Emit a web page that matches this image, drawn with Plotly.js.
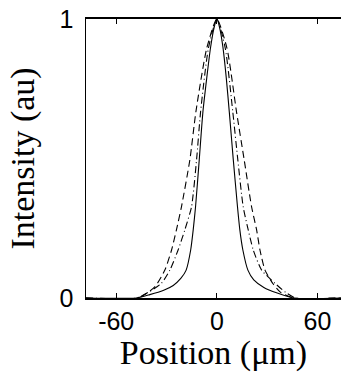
<!DOCTYPE html>
<html>
<head>
<meta charset="utf-8">
<script src="https://cdn.plot.ly/plotly-3.0.1.min.js"></script>
<style>html,body{margin:0;padding:0;background:#fff;overflow:hidden}#chart{width:341px;height:372px}</style>
</head>
<body>
<div id="chart"></div>
<script>
// Solid curve (narrowest)
const solidX = [-78, -48, -40, -32, -26, -21.5, -18.3, -15.6, -14.1, -12.7, -10.5, -8.3, -6, -3.8, -1.8, 0, 1.8, 3.6, 5.6, 7.4, 9.8, 12.3, 13.7, 15.5, 18.5, 22, 28, 36, 46, 74];
const solidY = [0, 0, 0.012, 0.027, 0.045, 0.07, 0.10, 0.172, 0.244, 0.327, 0.495, 0.668, 0.79, 0.896, 0.965, 1, 0.965, 0.9, 0.79, 0.668, 0.495, 0.327, 0.244, 0.172, 0.10, 0.065, 0.038, 0.018, 0, 0];
// Dash-dot curve (middle)
const dashDotX = [-78, -48, -41, -33, -28, -23.1, -19.1, -15.1, -12.1, -9.7, -5, 0, 5, 9.5, 12.5, 15.7, 18.7, 21.7, 26.7, 34.6, 41, 47, 74];
const dashDotY = [0, 0, 0.02, 0.053, 0.10, 0.172, 0.244, 0.327, 0.495, 0.667, 0.896, 1, 0.896, 0.667, 0.495, 0.327, 0.244, 0.172, 0.10, 0.053, 0.02, 0, 0];
// Dashed curve (widest)
const dashedX = [-78, -47, -37, -31, -27, -24.1, -21.1, -16.1, -12.5, -6, 0, 6, 11.7, 16.3, 20.7, 23.7, 25.7, 28.7, 33.6, 38, 46, 74];
const dashedY = [0, 0, 0.04, 0.10, 0.172, 0.244, 0.327, 0.495, 0.667, 0.896, 1, 0.896, 0.668, 0.495, 0.327, 0.244, 0.172, 0.10, 0.05, 0.02, 0, 0];
// Ticks
const xTickVals = [-60, 0, 60];
const xTickText = ['-60', '0', '60'];
const yTickVals = [0, 1];
const yTickText = ['0', '1'];

const line = (x, y, dash) => ({
  x: x, y: y, type: 'scatter', mode: 'lines',
  line: {color: '#000', width: 1.1, dash: dash, shape: 'spline', smoothing: 0.6},
  hoverinfo: 'skip', showlegend: false
});

const data = [
  line(dashedX, dashedY, '7px,4px'),
  line(dashDotX, dashDotY, '7px,3px,1px,3px'),
  line(solidX, solidY, 'solid')
];

const tickFont = {family: '"Liberation Sans", Arial, sans-serif', size: 25, color: '#000'};
const xTitleFont = {family: '"Liberation Serif", "Times New Roman", serif', size: 34, color: '#000'};
const yTitleFont = {family: '"Liberation Serif", "Times New Roman", serif', size: 34, color: '#000'};

const layout = {
  width: 341, height: 372,
  margin: {l: 86, r: 0, t: 19, b: 74},
  paper_bgcolor: '#fff', plot_bgcolor: '#fff',
  font: {family: '"Liberation Sans", Arial, sans-serif', color: '#000'},
  xaxis: {
    range: [-78, 74], tickvals: xTickVals, ticktext: xTickText,
    ticks: 'inside', ticklen: 5, tickwidth: 1, tickcolor: '#000',
    showline: true, linecolor: '#000', linewidth: 2, mirror: 'ticks',
    showgrid: false, zeroline: false, tickfont: tickFont,
    title: {text: 'Position (μm)', font: xTitleFont, standoff: 16}
  },
  yaxis: {
    range: [0, 1], tickvals: yTickVals, ticktext: yTickText,
    ticks: '', showline: true, linecolor: '#000', linewidth: 1.5, mirror: false,
    showgrid: false, zeroline: false, tickfont: tickFont, ticklabelstandoff: 6,
    title: {text: 'Intensity (au)', font: yTitleFont, standoff: 14}
  }
};

Plotly.newPlot('chart', data, layout, {displayModeBar: false, staticPlot: true});
</script>
</body>
</html>
